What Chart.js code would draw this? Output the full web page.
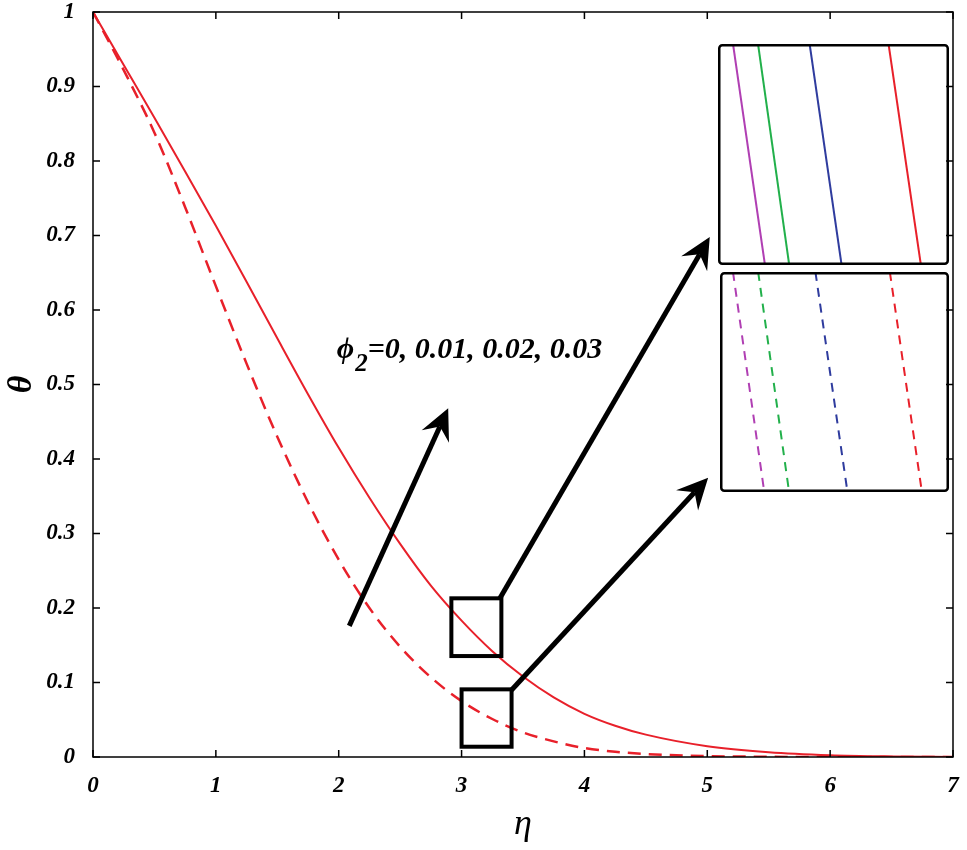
<!DOCTYPE html>
<html>
<head>
<meta charset="utf-8">
<script src="https://cdn.jsdelivr.net/npm/chart.js@4"></script>
<style>
  body { margin: 0; background: #fff; }
  #wrap { position: relative; width: 967px; height: 850px; }
  #wrap canvas { position: absolute; }
</style>
</head>
<body>
<div id="wrap">
  <canvas id="grafico" width="967" height="850" style="left:0;top:0"></canvas>
  <canvas id="insetSolido" width="231" height="221" style="left:718px;top:44px"></canvas>
  <canvas id="insetRayas" width="229" height="220" style="left:720px;top:272px"></canvas>
</div>
<script>
// datos
const eta = [0, 0.25, 0.5, 0.75, 1, 1.25, 1.5, 1.75, 2, 2.25, 2.5, 2.75, 3, 3.25, 3.5, 3.75, 4, 4.25, 4.5, 5, 5.5, 6, 6.5, 7]
const thetaSolida = [1, 0.929, 0.858, 0.786, 0.713, 0.638, 0.562, 0.487, 0.415, 0.348, 0.286, 0.230, 0.183, 0.142, 0.108, 0.080, 0.058, 0.042, 0.030, 0.0145, 0.0065, 0.0025, 0.0008, 0]
const thetaRayas = [1, 0.922, 0.838, 0.738, 0.632, 0.528, 0.430, 0.342, 0.265, 0.200, 0.148, 0.107, 0.075, 0.051, 0.033, 0.021, 0.012, 0.007, 0.004, 0.0012, 0.0003, 0, 0, 0]
const xTicks = [0, 1, 2, 3, 4, 5, 6, 7]
const yTicks = [0, 0.1, 0.2, 0.3, 0.4, 0.5, 0.6, 0.7, 0.8, 0.9, 1]

// curvas ampliadas (phi2 = 0, 0.01, 0.02, 0.03): eta en theta alto y en theta bajo
const phi2 = ['0', '0.01', '0.02', '0.03']
const coloresPhi = ['#b03fb3', '#22b04b', '#2f3c9e', '#e8202a']
const insetSolidoY = [0.1495, 0.1480]
const insetSolidoX = [[3.2039, 3.2122], [3.2104, 3.2185], [3.2238, 3.2321], [3.2443, 3.2527]]
const insetRayasY = [0.0528, 0.0520]
const insetRayasX = [[3.2034, 3.2116], [3.2100, 3.2181], [3.2250, 3.2334], [3.2445, 3.2529]]

// anotaciones en unidades de datos
const cajas = [[2.917, 3.324, 0.1355, 0.213], [3.0, 3.407, 0.0138, 0.0908]]
const flechas = [
  [2.086, 0.176, 2.891, 0.468],
  [3.312, 0.213, 5.02, 0.698],
  [3.407, 0.090, 5.007, 0.375]
]
const textoPhi = { x: 1.985, y: 0.535 }

const rojo = '#e8202a'
const fuenteTicks = { family: '"Liberation Serif", serif', size: 23, style: 'italic', weight: 'bold' }

function puntos(xs, ys){
  return xs.map((x, i) => ({ x: x, y: ys[i] }))
}

function dibujarFlecha(ctx, x1, y1, x2, y2){
  const ang = Math.atan2(y2 - y1, x2 - x1)
  const largo = 31
  const ancho = 15
  const muesca = 11
  const bx = x2 - largo * Math.cos(ang)
  const by = y2 - largo * Math.sin(ang)
  const nx = x2 - (largo - muesca) * Math.cos(ang)
  const ny = y2 - (largo - muesca) * Math.sin(ang)
  ctx.beginPath()
  ctx.moveTo(x1, y1)
  ctx.lineTo(nx, ny)
  ctx.lineWidth = 5
  ctx.stroke()
  ctx.beginPath()
  ctx.moveTo(x2, y2)
  ctx.lineTo(bx - ancho * Math.sin(ang), by + ancho * Math.cos(ang))
  ctx.lineTo(nx, ny)
  ctx.lineTo(bx + ancho * Math.sin(ang), by - ancho * Math.cos(ang))
  ctx.closePath()
  ctx.fill()
}

const marcoTicks = {
  id: 'marcoTicks',
  afterDraw(chart){
    const { ctx, chartArea: a, scales } = chart
    ctx.save()
    ctx.strokeStyle = '#000'
    ctx.lineWidth = 1.5
    ctx.strokeRect(a.left, a.top, a.right - a.left, a.bottom - a.top)
    const t = 7
    scales.x.ticks.forEach(tk => {
      const px = scales.x.getPixelForValue(tk.value)
      ctx.beginPath()
      ctx.moveTo(px, a.bottom); ctx.lineTo(px, a.bottom - t)
      ctx.moveTo(px, a.top); ctx.lineTo(px, a.top + t)
      ctx.stroke()
    })
    scales.y.ticks.forEach(tk => {
      const py = scales.y.getPixelForValue(tk.value)
      ctx.beginPath()
      ctx.moveTo(a.left, py); ctx.lineTo(a.left + t, py)
      ctx.moveTo(a.right, py); ctx.lineTo(a.right - t, py)
      ctx.stroke()
    })
    ctx.restore()
  }
}

const anotaciones = {
  id: 'anotaciones',
  afterDraw(chart){
    const { ctx, scales } = chart
    const X = v => scales.x.getPixelForValue(v)
    const Y = v => scales.y.getPixelForValue(v)
    ctx.save()
    ctx.strokeStyle = '#000'
    ctx.fillStyle = '#000'
    ctx.lineWidth = 4
    cajas.forEach(c => {
      ctx.strokeRect(X(c[0]), Y(c[3]), X(c[1]) - X(c[0]), Y(c[2]) - Y(c[3]))
    })
    flechas.forEach(f => dibujarFlecha(ctx, X(f[0]), Y(f[1]), X(f[2]), Y(f[3])))
    let px = X(textoPhi.x)
    const py = Y(textoPhi.y)
    ctx.textBaseline = 'alphabetic'
    ctx.font = 'bold italic 30px "Liberation Serif", serif'
    ctx.fillText('\u03D5', px, py)
    px += ctx.measureText('\u03D5').width + 1
    ctx.font = 'bold italic 25px "Liberation Serif", serif'
    ctx.fillText('2', px, py + 13)
    px += ctx.measureText('2').width
    ctx.font = 'bold italic 30px "Liberation Serif", serif'
    ctx.fillText('=0, 0.01, 0.02, 0.03', px, py)
    ctx.restore()
  }
}

const contexto = document.getElementById('grafico').getContext('2d')
const grafico = new Chart(contexto, {
  type: 'line',
  data: {
    datasets: [
      {
        label: 'solida',
        data: puntos(eta, thetaSolida),
        borderColor: rojo,
        borderWidth: 2,
        pointRadius: 0,
        cubicInterpolationMode: 'monotone'
      },
      {
        label: 'rayas',
        data: puntos(eta, thetaRayas),
        borderColor: rojo,
        borderWidth: 2.5,
        borderDash: [13, 8],
        pointRadius: 0,
        cubicInterpolationMode: 'monotone'
      }
    ]
  },
  plugins: [marcoTicks, anotaciones],
  options: {
    responsive: false,
    animation: false,
    layout: { padding: { top: 12, right: 14, left: 0, bottom: 0 } },
    plugins: { legend: { display: false }, tooltip: { enabled: false } },
    scales: {
      x: {
        type: 'linear',
        min: 0,
        max: 7,
        afterFit: s => { s.height = 93; s.paddingLeft = 0; s.paddingRight = 0 },
        afterBuildTicks: s => { s.ticks = xTicks.map(v => ({ value: v })) },
        grid: { display: false },
        border: { display: false },
        ticks: { color: '#000', font: fuenteTicks, padding: 7, maxRotation: 0 },
        title: {
          display: true,
          text: '\u03B7',
          color: '#000',
          font: { family: '"Liberation Serif", serif', size: 36, style: 'italic' },
          padding: { top: 0, bottom: 4 }
        }
      },
      y: {
        type: 'linear',
        min: 0,
        max: 1,
        afterFit: s => { s.width = 93; s.paddingTop = 0; s.paddingBottom = 0 },
        afterBuildTicks: s => { s.ticks = yTicks.map(v => ({ value: v })) },
        grid: { display: false },
        border: { display: false },
        ticks: {
          color: '#000',
          font: fuenteTicks,
          padding: 10,
          callback: v => (v === 0 || v === 1) ? String(v) : v.toFixed(1)
        },
        title: {
          display: true,
          text: '\u03B8',
          color: '#000',
          font: { family: '"Liberation Serif", serif', size: 34, style: 'italic', weight: 'bold' },
          padding: { top: 2, bottom: 0 }
        }
      }
    }
  }
})

const bordeInset = {
  id: 'bordeInset',
  afterDraw(chart){
    const { ctx, chartArea: a } = chart
    ctx.save()
    ctx.strokeStyle = '#000'
    ctx.lineWidth = 2.5
    ctx.beginPath()
    ctx.roundRect(a.left + 1.25, a.top + 1.25, a.right - a.left - 2.5, a.bottom - a.top - 2.5, 3)
    ctx.stroke()
    ctx.restore()
  }
}

function crearInset(id, xs, ys, xMin, xMax, rayas){
  const datasets = xs.map((par, i) => ({
    label: 'phi2=' + phi2[i],
    data: puntos(par, ys),
    borderColor: coloresPhi[i],
    borderWidth: 2,
    borderDash: rayas ? [9, 7] : [],
    pointRadius: 0
  }))
  return new Chart(document.getElementById(id).getContext('2d'), {
    type: 'line',
    data: { datasets: datasets },
    plugins: [bordeInset],
    options: {
      responsive: false,
      animation: false,
      layout: { padding: 0 },
      plugins: { legend: { display: false }, tooltip: { enabled: false } },
      scales: {
        x: { type: 'linear', min: xMin, max: xMax, display: false },
        y: { type: 'linear', min: ys[1], max: ys[0], display: false }
      }
    }
  })
}

crearInset('insetSolido', insetSolidoX, insetSolidoY, 3.20, 3.26, false)
crearInset('insetRayas', insetRayasX, insetRayasY, 3.20, 3.26, true)
</script>
</body>
</html>
